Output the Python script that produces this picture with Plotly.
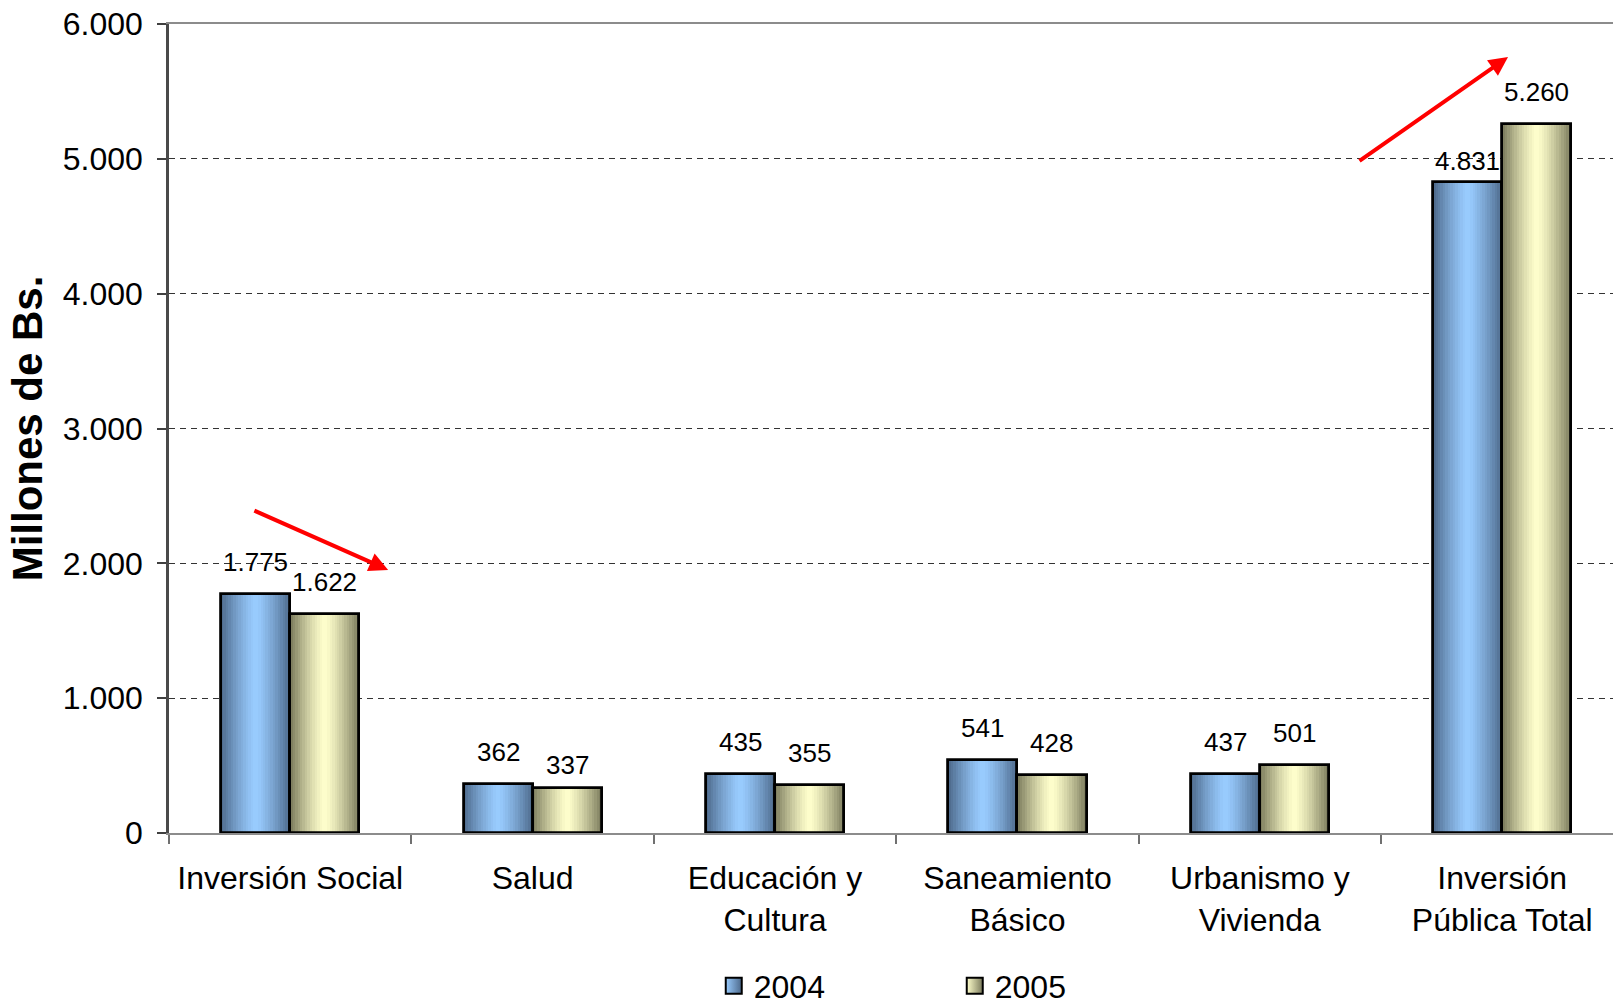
import plotly.graph_objects as go

# --- data -----------------------------------------------------------------
categories = [
    "Inversión Social",
    "Salud",
    "Educación y<br>Cultura",
    "Saneamiento<br>Básico",
    "Urbanismo y<br>Vivienda",
    "Inversión<br>Pública Total",
]
years = ["2004", "2005"]
values_2004 = [1775, 362, 435, 541, 437, 4831]
values_2005 = [1622, 337, 355, 428, 501, 5260]
y_ticks = [0, 1000, 2000, 3000, 4000, 5000, 6000]

# --- style ----------------------------------------------------------------
FONT = "Liberation Sans, Arial, sans-serif"
BAR_W = 0.285          # width of one bar in category units
N_SLICES = 28          # slices used to paint the horizontal shading
palette = {
    "2004": {"light": (153, 204, 255), "dark": (76, 104, 138)},
    "2005": {"light": (255, 255, 204), "dark": (122, 122, 92)},
}
label_lift = 32        # px between a bar top and the centre of its label
label_nudge = {(1, 1): -9, (0, 5): -11}   # (series, category): extra px

# trend arrows, tail -> head, in data coordinates
arrows = [
    ((-0.154, 2396), (0.404, 1951)),
    ((4.405, 4977), (5.024, 5755)),
]


def fmt(v):
    return f"{v:,}".replace(",", ".")


def shade(c_light, c_dark, t):
    # light in the middle of the bar, darker towards both edges
    f = abs(2 * t - 1) ** 1.3
    r, g, b = (round(l * (1 - f) + d * f) for l, d in zip(c_light, c_dark))
    return f"rgb({r},{g},{b})"


fig = go.Figure()
series = [values_2004, values_2005]
centres = list(range(len(categories)))

for s, (year, vals) in enumerate(zip(years, series)):
    off = (s - 0.5) * BAR_W
    pal = palette[year]
    xs = [c + off for c in centres]
    # shaded body of each bar, built from narrow vertical slices
    for k in range(N_SLICES):
        t = (k + 0.5) / N_SLICES
        fig.add_trace(go.Bar(
            x=[x - BAR_W / 2 + t * BAR_W for x in xs],
            y=vals,
            width=BAR_W / N_SLICES * 1.08,
            marker=dict(color=shade(pal["light"], pal["dark"], t), line=dict(width=0)),
            showlegend=False,
            hoverinfo="skip",
        ))
    # black outline on top
    fig.add_trace(go.Bar(
        x=xs, y=vals, width=BAR_W, name=year,
        marker=dict(color="rgba(0,0,0,0)", line=dict(color="black", width=2.8)),
        showlegend=False,
    ))
    # legend swatch
    fig.add_trace(go.Scatter(
        x=[None], y=[None], mode="markers", name=year,
        marker=dict(symbol="square", size=16,
                    color="rgb(%d,%d,%d)" % pal["light"],
                    gradient=dict(type="horizontal", color="rgb(%d,%d,%d)" % pal["dark"]),
                    line=dict(color="black", width=2)),
    ))
    # value labels
    for i, (x, v) in enumerate(zip(xs, vals)):
        fig.add_annotation(
            x=x, y=v, text=fmt(v), showarrow=False, xanchor="center", yanchor="middle",
            yshift=label_lift + label_nudge.get((s, i), 0),
            font=dict(family=FONT, size=26, color="black"),
        )

for (tx, ty), (hx, hy) in arrows:
    fig.add_annotation(
        x=hx, y=hy, ax=tx, ay=ty, xref="x", yref="y", axref="x", ayref="y",
        text="", showarrow=True, arrowhead=2, arrowsize=0.95, arrowwidth=4,
        arrowcolor="#ff0000", standoff=0,
    )

fig.update_layout(
    width=1613, height=1004,
    margin=dict(l=169, r=0, t=24, b=171),
    paper_bgcolor="white", plot_bgcolor="white",
    barmode="overlay", bargap=0,
    separators=",.",
    font=dict(family=FONT, size=31, color="black"),
    showlegend=True,
    legend=dict(
        orientation="h", xref="container", yref="container",
        x=0.4425, xanchor="left", y=0.018, yanchor="middle",
        font=dict(family=FONT, size=32, color="black"),
        entrywidth=196, bgcolor="rgba(0,0,0,0)",
    ),
    xaxis=dict(
        range=[-0.5, 5.457], tickmode="array", tickvals=centres, ticktext=categories,
        ticks="", showgrid=False, zeroline=False,
        showline=True, linecolor="#8c8c8c", linewidth=2, mirror=True,
        ticklabelstandoff=16,
        tickfont=dict(family=FONT, size=32, color="black"),
        minor=dict(tickmode="array", tickvals=[c - 0.5 for c in centres] + [5.5],
                   ticks="outside", ticklen=9, tickcolor="#707070", tickwidth=1.5,
                   showgrid=False),
    ),
    yaxis=dict(
        range=[0, 6000], tickmode="array", tickvals=y_ticks, tickformat=",d",
        ticks="outside", ticklen=9, tickcolor="#404040", tickwidth=1.5,
        showline=True, linecolor="#4a4a4a", linewidth=2.5,
        showgrid=True, gridcolor="#333333", gridwidth=1, griddash="6px,5px",
        zeroline=False, ticklabelstandoff=8,
        tickfont=dict(family=FONT, size=32, color="black"),
        title=dict(text="<b>Millones de Bs.</b>", standoff=8,
                   font=dict(family=FONT, size=42, color="black")),
    ),
)

fig.write_html("out.html")
